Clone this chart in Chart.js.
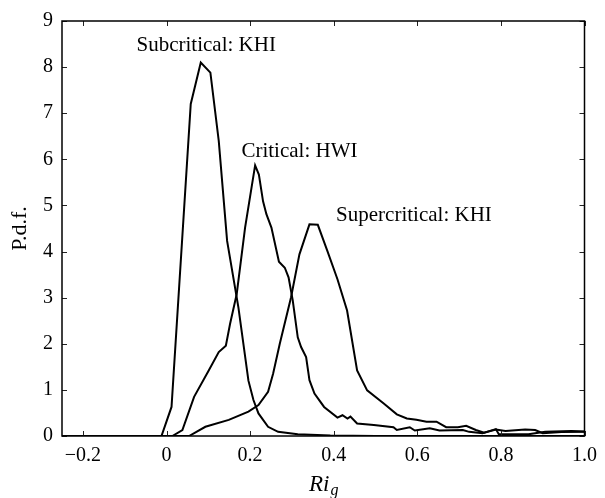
<!DOCTYPE html>
<html>
<head>
<meta charset="utf-8">
<script src="https://cdn.jsdelivr.net/npm/chart.js@4/dist/chart.umd.min.js"></script>
<style>
  body { margin: 0; background: #fff; }
  #wrap { width: 605px; height: 498px; }
</style>
</head>
<body>
<div id="wrap"><canvas id="pdf" width="605" height="498"></canvas></div>
<script>
// Ri_g distributions for the three regimes
const subX = [-0.25, -0.012, 0.012, 0.058, 0.082, 0.105, 0.125, 0.145, 0.172, 0.196, 0.208, 0.22, 0.243, 0.267, 0.314, 0.392, 0.5, 0.7, 1.0];
const subY = [0, 0, 0.63, 7.2, 8.1, 7.88, 6.4, 4.23, 2.79, 1.2, 0.78, 0.49, 0.2, 0.09, 0.04, 0.01, 0, 0, 0];

const critX = [-0.25, 0.014, 0.038, 0.066, 0.101, 0.125, 0.142, 0.152, 0.168, 0.188, 0.212, 0.221, 0.231, 0.239, 0.251, 0.269, 0.283, 0.292, 0.302, 0.314, 0.322, 0.334, 0.342, 0.354, 0.377, 0.409, 0.421, 0.433, 0.44, 0.456, 0.496, 0.543, 0.551, 0.582, 0.594, 0.63, 0.653, 0.709, 0.724, 0.756, 0.788, 0.795, 0.866, 0.906, 0.969, 1.0];
const critY = [0, 0, 0.13, 0.85, 1.42, 1.82, 1.96, 2.43, 3.08, 4.52, 5.87, 5.67, 5.09, 4.81, 4.52, 3.78, 3.65, 3.44, 2.94, 2.14, 1.93, 1.71, 1.21, 0.92, 0.63, 0.4, 0.45, 0.38, 0.42, 0.27, 0.24, 0.19, 0.13, 0.19, 0.12, 0.17, 0.12, 0.13, 0.09, 0.06, 0.15, 0.04, 0.04, 0.09, 0.11, 0.1];

const supX = [-0.25, 0.054, 0.093, 0.149, 0.196, 0.22, 0.243, 0.255, 0.271, 0.298, 0.318, 0.342, 0.362, 0.385, 0.409, 0.432, 0.456, 0.48, 0.519, 0.551, 0.575, 0.598, 0.622, 0.646, 0.669, 0.697, 0.717, 0.74, 0.76, 0.788, 0.811, 0.858, 0.882, 0.9, 0.945, 1.0];
const supY = [0, 0, 0.2, 0.35, 0.53, 0.67, 0.96, 1.35, 2.0, 3.01, 3.94, 4.59, 4.58, 4.01, 3.4, 2.72, 1.42, 0.99, 0.71, 0.47, 0.38, 0.35, 0.31, 0.31, 0.19, 0.19, 0.22, 0.13, 0.07, 0.14, 0.11, 0.14, 0.13, 0.06, 0.087, 0.09];

const xTicks = [-0.2, 0, 0.2, 0.4, 0.6, 0.8, 1.0];
const yTicks = [0, 1, 2, 3, 4, 5, 6, 7, 8, 9];

// curve names, placed in data coordinates
const curveLabels = ["Subcritical: KHI", "Critical: HWI", "Supercritical: KHI"];
const labelX = [0.095, 0.318, 0.592];
const labelY = [8.46, 6.17, 4.79];

const FONT = "'Liberation Serif', 'DejaVu Serif', serif";

function toPoints(xs, ys) {
    return xs.map((x, i) => ({ x: x, y: ys[i] }));
}

function curve(xs, ys) {
    return {
        data: toPoints(xs, ys),
        borderColor: "#000",
        borderWidth: 2,
        pointRadius: 0,
        tension: 0,
        showLine: true,
        fill: false
    };
}

// frame with inward ticks on all four sides, curve names and axis titles
const framePlugin = {
    id: "frame",
    afterDraw(chart) {
        const ctx = chart.ctx;
        const a = chart.chartArea;
        const xs = chart.scales.x;
        const ys = chart.scales.y;
        const tl = 5;
        ctx.save();
        ctx.strokeStyle = "#222";
        ctx.lineWidth = 1;
        xTicks.forEach(v => {
            const px = Math.round(xs.getPixelForValue(v)) + 0.5;
            ctx.beginPath();
            ctx.moveTo(px, a.bottom); ctx.lineTo(px, a.bottom - tl);
            ctx.moveTo(px, a.top); ctx.lineTo(px, a.top + tl);
            ctx.stroke();
        });
        yTicks.forEach(v => {
            const py = Math.round(ys.getPixelForValue(v)) + 0.5;
            ctx.beginPath();
            ctx.moveTo(a.left, py); ctx.lineTo(a.left + tl, py);
            ctx.moveTo(a.right, py); ctx.lineTo(a.right - tl, py);
            ctx.stroke();
        });
        ctx.strokeStyle = "#000";
        ctx.lineWidth = 1.5;
        ctx.strokeRect(a.left, a.top, a.right - a.left, a.bottom - a.top);

        ctx.fillStyle = "#000";
        ctx.textAlign = "center";
        ctx.textBaseline = "middle";
        ctx.font = "21px " + FONT;
        curveLabels.forEach((t, i) => {
            ctx.fillText(t, xs.getPixelForValue(labelX[i]), ys.getPixelForValue(labelY[i]));
        });

        // y title
        ctx.save();
        ctx.translate(20, (a.top + a.bottom) / 2);
        ctx.rotate(-Math.PI / 2);
        ctx.font = "22px " + FONT;
        ctx.fillText("P.d.f.", 0, 0);
        ctx.restore();

        // x title: Ri with subscript g
        ctx.textAlign = "left";
        ctx.textBaseline = "alphabetic";
        ctx.font = "italic 23px " + FONT;
        const main = "Ri";
        const w1 = ctx.measureText(main).width;
        ctx.font = "italic 16px " + FONT;
        const w2 = ctx.measureText("g").width;
        const cx = (a.left + a.right) / 2;
        const base = 491;
        const x0 = cx - (w1 + w2) / 2;
        ctx.font = "italic 23px " + FONT;
        ctx.fillText(main, x0, base);
        ctx.font = "italic 16px " + FONT;
        ctx.fillText("g", x0 + w1 + 1, base + 4);
        ctx.restore();
    }
};

new Chart(document.getElementById("pdf"), {
    type: "scatter",
    data: {
        datasets: [curve(subX, subY), curve(critX, critY), curve(supX, supY)]
    },
    options: {
        responsive: false,
        animation: false,
        layout: { padding: { top: 19, right: 15, left: 0, bottom: 0 } },
        plugins: {
            legend: { display: false },
            tooltip: { enabled: false }
        },
        scales: {
            x: {
                type: "linear",
                min: -0.25,
                max: 1.0,
                grid: { display: false, drawTicks: false },
                border: { display: false },
                afterBuildTicks: scale => { scale.ticks = xTicks.map(v => ({ value: v })); },
                afterFit: scale => { scale.height = 62; },
                ticks: {
                    color: "#000",
                    padding: 8,
                    maxRotation: 0,
                    font: { family: FONT, size: 20 },
                    callback: v => v === 0 ? "0" : (v < 0 ? "\u2212" : "") + Math.abs(v).toFixed(1)
                }
            },
            y: {
                min: 0,
                max: 9,
                grid: { display: false, drawTicks: false },
                border: { display: false },
                afterBuildTicks: scale => { scale.ticks = yTicks.map(v => ({ value: v })); },
                afterFit: scale => { scale.width = 62; },
                ticks: {
                    color: "#000",
                    padding: 9,
                    font: { family: FONT, size: 20 },
                    callback: v => String(v)
                }
            }
        }
    },
    plugins: [framePlugin]
});
</script>
</body>
</html>
